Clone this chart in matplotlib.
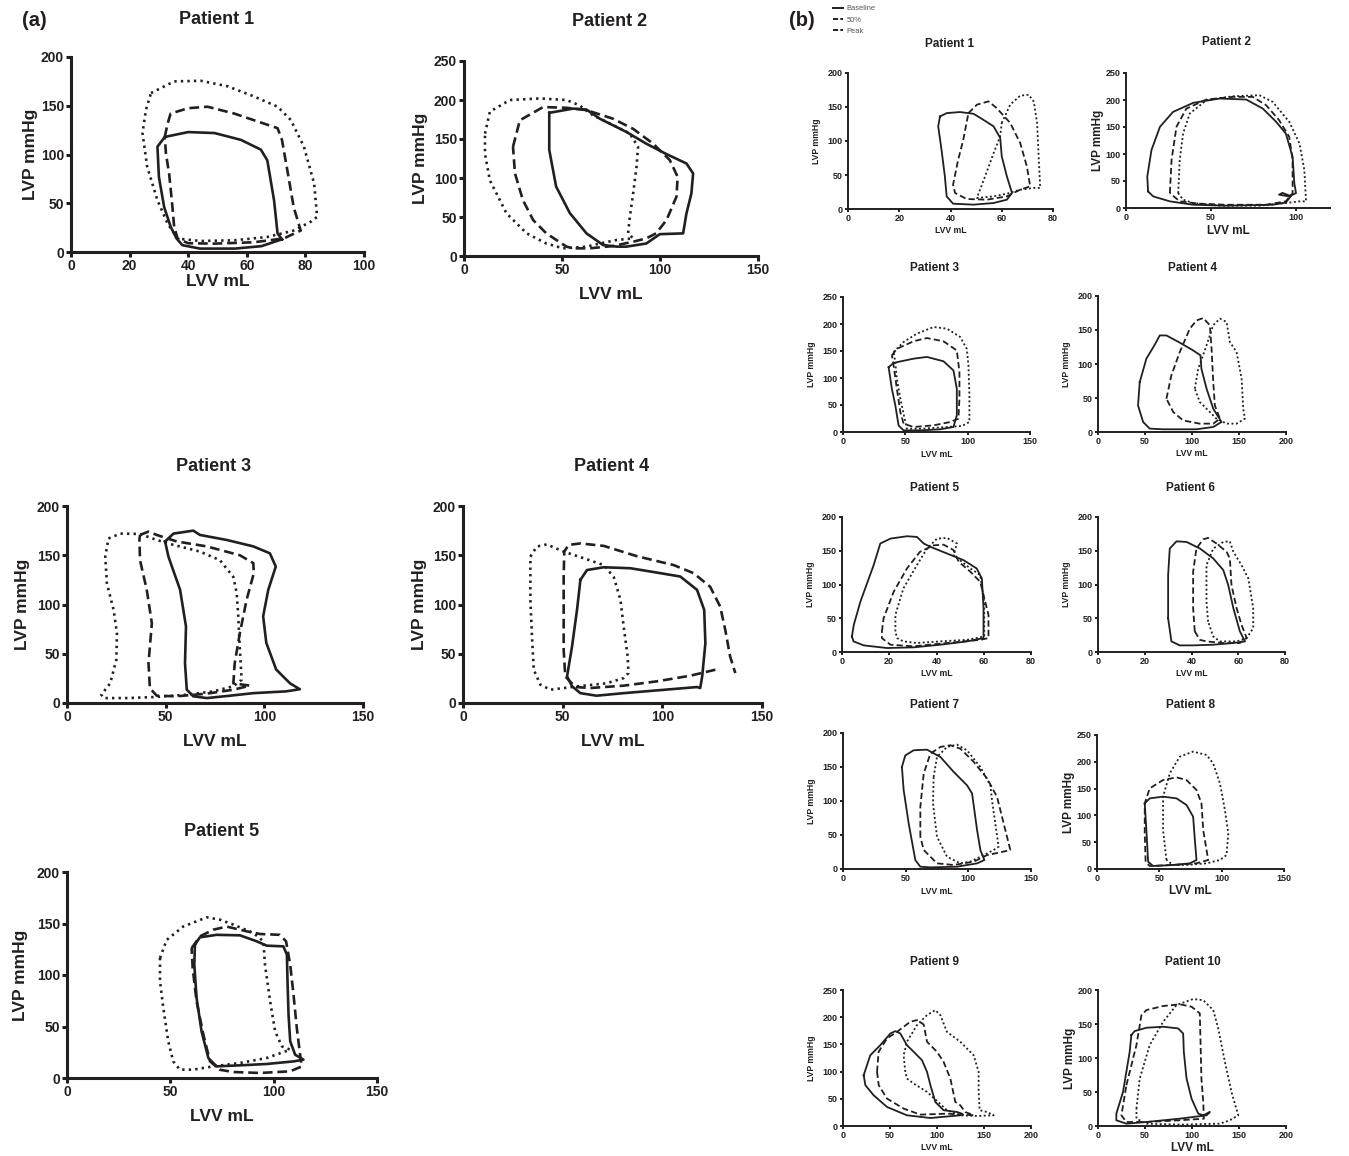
import numpy as np
import matplotlib
matplotlib.use("Agg")
import matplotlib.pyplot as plt
from matplotlib.lines import Line2D

plt.rcParams['font.family'] = ['Liberation Sans', 'DejaVu Sans']
plt.rcParams['font.weight'] = 'bold'
plt.rcParams['lines.scale_dashes'] = False

INK = '#231f20'
W, H = 1349, 1156

# ---------------- data: pressure-volume loops (LVV mL, LVP mmHg) ----------------
# Panel (a)
a1_baseline = [(72,13),(70.5,19),(69.3,53),(67,94),(64.8,105),(58,115),(49,122),(40,123),(32,118),(29.5,108),(30,77),(31.8,46),(34,26),(36,14),(38,7),(44,3.5),(56,3.5),(65,6),(72,13)]
a1_half = [(32,118),(33,132),(34,142),(40,147.5),(46.6,149),(55.7,142),(63.6,134),(70.5,127),(72,115),(74,81),(76,46),(78.4,22),(72.7,14),(62.5,10),(49,8.6),(40,9),(36.4,13.7),(35.2,26),(34.5,50),(33.5,80),(32.4,101),(32,118)]
a1_peak = [(27.3,163),(35.2,175),(44.3,175.6),(53.4,170),(62.5,159.5),(70.5,149),(75,135.5),(79.5,108),(83,70),(84,36),(81.8,31),(76,22),(67,15.4),(55.7,12),(44.3,11.3),(36.4,13.7),(33,29),(29.5,53),(26,87.5),(24.4,122),(25.6,146),(27.3,163)]

a2_baseline = [(43.5,183.5),(55.7,189),(62.5,187.7),(69.3,176),(82.9,159),(93,144),(103,131),(113.5,118.6),(116.9,105.8),(116,80),(113.5,54.6),(111.8,29),(99.9,28),(98,24.7),(93,16),(82.9,12),(78,12),(71,14),(62.5,29),(54,55),(47,89),(43.5,136),(43.5,183.5)]
a2_half = [(25,140),(28.5,174),(40.4,191),(52.3,190),(62.5,187),(76,176),(86.3,163),(96.5,144),(105,123),(109,101.5),(108.4,76),(103.3,46),(98,29),(93,22.6),(86.3,18.3),(76,12.8),(64,9.8),(55.7,9.8),(52.3,12),(42,29),(35.3,46),(30,72),(26,106),(25,140)]
a2_peak = [(10.7,157),(13.2,185),(23.4,200),(38.7,202),(52.3,200),(59,193),(66,180),(76,168),(84.6,157),(88.8,140),(88,114),(86.3,80),(84.6,50),(83.7,29),(86.3,22.6),(77.8,20.5),(69.3,16),(62.5,12),(50.6,9.8),(42,16),(32,29),(21.7,54.6),(13.2,97),(10.7,131),(10.7,157)]

a3_baseline = [(49.7,164),(54,172),(64,175),(67.4,170.6),(81,165.5),(94.4,159),(102.8,152),(105.8,138.5),(102,115),(99.4,88),(101,61),(106,34),(113,20),(118,14),(111,11.8),(94.4,10),(82.6,7.4),(70.8,5),(64,6.8),(60.7,13.5),(59.8,40.5),(60.3,77.7),(57.3,115),(51.4,148.6),(49.7,164)]
a3_half = [(37,170.6),(41.3,174),(45.5,170.6),(55.6,164),(70.8,159),(87.6,150),(94.4,142),(94.7,132),(91,104.7),(87.6,71),(85,40.5),(84.3,20),(92.7,17.6),(84.3,13.5),(70.8,9.5),(55.6,6.8),(45.5,7.4),(42,15),(41.3,40.5),(43,81),(40.4,115),(37,145),(36.7,166),(37,170.6)]
a3_peak = [(21,167),(27,172),(37,171.6),(45.5,165.5),(54,160.5),(67.4,153.7),(77.5,145),(84.3,128),(86,111.5),(86.8,88),(87.6,54),(88.5,23.6),(84.3,17),(74,11.8),(60.7,8.4),(43.8,6),(30.3,5),(18.5,5),(17.4,8.4),(21.9,20),(25,44),(25.3,71),(23.6,94.6),(20.2,121.6),(19.4,148.6),(21,167)]

a4_baseline = [(58.9,125),(62.2,135),(70.6,137.8),(84,136.8),(97.3,132.4),(109,128.4),(117.4,114.9),(121,94.6),(121.6,60.8),(120,27),(119,15.2),(117.4,16.2),(97.3,12.8),(80.6,10),(67,7.4),(58.9,10),(54.7,17),(52.2,27),(54.7,57.4),(57.2,94.6),(58.9,125)]
a4_half = [(126.6,33.8),(114,27.7),(97.3,22),(80.6,17.6),(63.9,15.2),(56.4,16.2),(51.3,27),(50.5,54),(50.5,87.8),(50.5,128),(50.8,153.7),(53,160.5),(58.9,162),(70.6,159.5),(87.3,149),(105.7,140),(115.7,131.8),(124,118),(129,98),(131.6,74),(134,47.3),(136.6,30.4)]
a4_peak = [(33.8,148.6),(37,158.8),(42,161),(50.5,153.7),(60.5,147),(70.6,140),(75.6,128),(79,104.7),(80.6,77.7),(82.6,47.3),(83,30.4),(80.6,25.3),(72,20),(60.5,17.6),(50.5,15.2),(43.8,13.5),(38.8,18.6),(35.5,33.8),(34.6,67.6),(33.8,104.7),(33.8,148.6)]

a5_baseline = [(61.9,129.4),(64.3,136.6),(72.4,139),(83.7,138.5),(91.8,132.7),(96.6,128.5),(104.7,127.8),(106.4,119.7),(106.7,93.8),(107.2,61.5),(108,35.6),(110.4,22.6),(114.4,17.8),(110,16.2),(96.6,13.6),(83.7,12.3),(72.4,11.3),(68.4,19.4),(65.1,45.3),(62.7,77.7),(61.6,110),(61.9,129.4)]
a5_half = [(60.3,126),(64.3,137.5),(70.8,144),(77.3,147),(87,142.4),(93.4,139.8),(103,139),(106,132.7),(108,110),(109.6,81),(111.2,48.5),(112.8,22.6),(113.6,11.3),(108,6.5),(93.4,4.9),(80.5,5.8),(74,8),(69.2,16.2),(66,42),(62.7,74.4),(60.8,106.8),(60.3,126)]
a5_peak = [(45,116.5),(48.2,134),(56.2,147),(67.6,156),(74,153.7),(80.5,148.9),(90.2,140.8),(95,132.7),(95.8,110),(98.3,74.4),(100.7,45.3),(104,30.7),(108,27.5),(96.6,19.4),(83.7,14.6),(70.8,11.3),(61,8.1),(54.6,8.1),(51.4,16.2),(49,35.6),(46.6,68),(45,94),(45,116.5)]

# Panel (b)
b1_baseline = [(35.9,136),(38.5,141),(43.7,142.6),(49,140),(52.9,131),(56.8,121.6),(59.4,104.4),(60,77.5),(62,48),(64,23.5),(62,13.7),(56.8,8.8),(49,6.4),(41,7.8),(38.5,18.6),(37.8,48),(36.5,87),(35.2,121.6),(35.9,136)]
b1_half = [(47,141),(50.3,153.4),(54.8,158.3),(58,148.5),(63.3,126.5),(67.2,97),(69.8,62.7),(71.1,33.3),(67.2,28.4),(62,18.6),(54.2,13.7),(46.3,14.7),(41.8,23.5),(41,35.8),(43,72.5),(45,102),(47,141)]
b1_peak = [(60,126.5),(63.3,153.4),(67.2,166.7),(70.5,168),(72.5,158),(73.8,126.5),(74.4,77.5),(75,31),(72.5,31),(67.2,28.4),(62,22.5),(56.8,18.6),(50.3,16.2),(53.5,48),(56.8,82),(59.4,107),(60,126.5)]

b2_baseline = [(13,30.7),(12.5,58),(15,107.5),(20,150.5),(27.7,178),(39.5,194.7),(55,202.7),(70.7,200.9),(80.5,184),(88.3,159.7),(94,138),(98,95),(99,46),(100,27.6),(96,21.5),(90,24.6),(92,28),(97,22),(94,10),(86.3,6),(59,4.3),(39.5,6),(25.8,12.3),(16,21.5),(13,30.7)]
b2_half = [(25.8,27.6),(26.8,89),(29.7,150.5),(35.5,184),(47.3,200.9),(62.9,205.8),(74.6,205.8),(82.4,190.4),(90,163),(96,132),(98,89),(98,27.6),(94,12.3),(82.4,6),(59,6),(43.3,8),(31.6,12.3),(25.8,27.6)]
b2_peak = [(30.7,27.6),(31.6,89),(33.6,138),(37.5,175),(47.3,199.6),(62.9,207),(78.5,208.8),(86.3,196.5),(96,159.7),(102,119.8),(104.9,70.6),(105.9,12.3),(102,12.3),(94,9.2),(78.5,4.3),(55,4.3),(39.5,9.2),(33.6,15.4),(30.7,27.6)]

b3_baseline = [(36.6,120),(40.6,128),(56.6,135.8),(67.3,139),(80.6,131),(88.6,114),(91.3,80),(91.3,31),(88.6,9.3),(78,5),(62,3),(48.6,3),(44.6,12),(42,49),(39.2,80),(36.6,120)]
b3_half = [(39.2,142),(43.2,154),(56.6,168),(67.3,174),(80.6,168),(91.3,151),(93.4,111),(93.4,62),(92.6,24.7),(86,18.5),(72.6,12.3),(56.6,9.3),(48.6,15.4),(46,37),(43.2,80),(40.6,123.5),(39.2,142)]
b3_peak = [(40.6,148),(48.6,166.7),(59.2,182),(72.6,194.4),(83.3,191.4),(94,176),(99.3,154),(100.6,123.5),(101.4,68),(101.4,18.5),(95.3,11),(83.3,9.3),(62,6),(51.2,6),(50,18.5),(46,61.7),(43.2,98.8),(41.9,129.6),(40.6,148)]

b4_baseline = [(44.4,73.5),(51.5,108),(60.4,128.4),(65.7,142),(72.8,142),(87,131.4),(101.2,120),(109,112.7),(110,93),(115.5,63.7),(122.6,34.3),(131.4,14.7),(122.6,7.4),(104.8,4),(69,4),(55,5),(48,14.7),(42.6,39),(44.4,73.5)]
b4_half = [(72.8,49),(78,83),(87,117.6),(97.7,152),(104.8,164),(111.9,167.6),(119,157),(120.8,122.5),(122.6,73.5),(124.3,39),(129.7,19.6),(122.6,12.3),(108,12.3),(90.6,17),(80,29.4),(72.8,49)]
b4_peak = [(103,63.7),(106.6,93),(115.5,127.5),(122.6,157),(129.7,166.7),(136.8,161.8),(140.3,132.4),(147.4,117.6),(152.8,78.4),(154.5,34.3),(156.3,19.6),(147.4,12.3),(136.8,12.3),(126,19.6),(119,29.4),(108.3,44),(103,63.7)]

b5_baseline = [(4.2,23),(5,40.3),(7.8,74.7),(13.4,128.7),(16.2,160.7),(20.5,168),(27.5,171.5),(31.7,170.5),(34.6,160.7),(37.4,155.8),(44.4,146),(51.5,136),(57,123.8),(59.2,109),(59.9,65),(59.9,20.6),(52.9,15.7),(41.6,10.8),(30.3,6.9),(19,5.9),(9.2,9.8),(4.9,15.7),(4.2,23)]
b5_half = [(16.9,30.5),(17.6,50),(21.9,89.4),(27.5,123.8),(33,148.4),(38.8,158),(43,159),(47.2,151),(49.4,133.7),(54.3,119),(58.5,104),(60.6,74.7),(62,55),(62,20.6),(58.5,18),(44.4,13.3),(30.3,8.4),(20.5,10.8),(16.9,20.6),(16.9,30.5)]
b5_peak = [(22.6,30.5),(22.6,55),(26,94.3),(31.7,128.7),(36,153.3),(40.2,168),(44.4,169),(48.7,160.7),(47.2,143.5),(54.3,123.8),(58.5,114),(60.2,74.7),(60.2,23),(52.9,18),(41.6,15.7),(31.7,13.3),(26,15.7),(23.3,20.6),(22.6,30.5)]

b6_baseline = [(30,50),(30,114),(30.7,153.3),(33.6,164),(37.9,163),(43.6,153.3),(49.3,138.6),(53.6,121.4),(55.7,99.3),(57.9,65),(60.7,30.5),(62.9,15.7),(57.9,13.3),(49.3,10.8),(40.7,9.8),(35,9.8),(31.4,15.7),(30,50)]
b6_half = [(41.4,30.5),(40.7,65),(40.7,119),(42.1,153.3),(45,167),(47.1,169),(50.7,160.7),(55,148.4),(56.4,138.6),(57.1,99.3),(59.3,65),(61.4,40.3),(63.6,20.6),(60.7,13.3),(53.6,13.3),(46.4,15.7),(43.6,18),(41.4,30.5)]
b6_peak = [(47.1,45),(46.4,74.7),(46.4,128.7),(49.3,153.3),(53.6,163),(56.4,164),(57.9,148.4),(61.4,128.7),(64.3,109),(66.4,65),(66.4,35.4),(63.6,20.6),(59.3,15.7),(52.1,15.7),(49.3,23),(47.1,45)]

b7_baseline = [(47,150),(49.7,167),(56.4,174.6),(67,175.5),(77.7,164.8),(88.3,142.8),(99,123),(103,111),(104.8,86.5),(107,57),(109.6,28),(112.8,13.2),(107,8.3),(91,3.4),(69.7,2.4),(61.7,3.4),(57.7,13.2),(52.4,67),(48.4,116),(47,150)]
b7_half = [(61.7,47.4),(61.7,91.4),(64.4,140.3),(69.7,169.7),(77.7,179.5),(85.6,182),(93.6,177),(104.3,157.5),(115,133),(122.9,106),(128.2,67),(133.5,28),(125.5,24.5),(115,20.5),(104.3,10.8),(88.3,5.9),(75,8.3),(64.4,28),(61.7,47.4)]
b7_peak = [(72.3,135.4),(75,164.8),(83,179.5),(91,182.9),(98.9,174.6),(109.6,150),(117.6,123),(118.9,101),(121.5,67),(124.2,32.8),(120.2,27.9),(109.6,18),(101.6,10.8),(93.6,8.3),(83,18),(75,47.4),(71.8,96.3),(72.3,135.4)]

b8_baseline = [(38.3,122.5),(42.3,131.8),(53,135),(63.8,131.8),(71.8,119.4),(77.1,97.6),(78.5,54),(79.8,16.8),(74.5,10.6),(61,7.5),(45,5.6),(41,13.7),(39.6,72.8),(38.3,122.5)]
b8_half = [(38.3,66.5),(38.3,122.5),(42.3,150.5),(53,166),(63.8,171),(71.8,166),(79.8,147.4),(83.8,122.5),(85.2,72.8),(89.2,16.8),(79.8,10.6),(61,7.5),(42.3,5.6),(39,13.7),(38.3,66.5)]
b8_peak = [(55.7,16.8),(53,72.8),(53,135),(58.4,178.5),(66.4,209.6),(77.1,219),(87.9,212.7),(93.2,197),(98.6,159.8),(102.6,110),(105.3,66.5),(103.9,26),(98.6,16.8),(87.9,10.6),(71.8,7.5),(61,7.5),(55.7,16.8)]

b9_baseline = [(22,93.4),(29,130),(39.7,148.6),(50.4,170),(55.7,174.4),(61,170),(68,148.6),(75.2,136.4),(84,121),(89.4,99.5),(93,75),(98.2,44.2),(107,29),(121,25.8),(126.6,22.7),(125,19.7),(93,14.7),(68,19.7),(46.8,35),(32.6,56.5),(23.8,75),(22,93.4)]
b9_half = [(36.2,99.5),(37.9,136.4),(46.8,161),(57.4,173),(71.6,191.6),(78.7,194.7),(85.8,186.7),(89.4,154.8),(100,136.4),(107,118),(114.2,87.2),(119.5,44.2),(124.8,38),(130,25.8),(139,19.7),(110.6,22.7),(82.3,20.9),(64.5,32),(46.8,50.4),(38,75),(36.2,99.5)]
b9_peak = [(66.3,99.5),(64.5,130),(68,154.8),(78.7,185.5),(89.4,204),(98.2,213),(103.5,204),(110.6,173),(124.8,154.8),(139,130),(144.3,99.5),(144.3,62.7),(145.4,29),(153,25.8),(160.3,19.7),(142.5,18.4),(124.8,19.7),(110.6,29),(89.4,62.7),(75.2,78),(68,87.2),(66.3,99.5)]

b10_baseline = [(35.5,133.7),(39,139.6),(51.5,144.5),(69.3,146),(85.3,143.5),(90.6,136),(91.3,109),(94.2,69.8),(99.5,40.3),(106.6,18.2),(112,15.7),(119,20.6),(115.5,15.7),(87,10.8),(51.5,5.9),(30.2,3.4),(19.5,8.4),(19.5,18.2),(26.6,50),(33.7,109),(35.5,133.7)]
b10_half = [(30.2,60),(40.9,119),(46.2,163),(51.5,170.5),(69.3,176.4),(87,179),(99.5,175.4),(108.3,165.6),(109,128.7),(110,69.8),(112,35.4),(112.6,10.8),(87,8.4),(51.5,5.9),(30.2,5.9),(24.9,15.7),(30.2,60)]
b10_peak = [(40.9,25.5),(44.4,69.8),(55,119),(69.3,153.3),(83.5,177.9),(101.2,186.7),(112,185),(122.6,170.5),(127.9,143.5),(135,94.3),(142,50),(149.2,15.7),(140.3,8.4),(129.7,3.4),(87,2),(51.5,3.4),(40.9,10.8),(40.9,25.5)]

titles_a = ['Patient 1', 'Patient 2', 'Patient 3', 'Patient 4', 'Patient 5']
titles_b = ['Patient %d' % i for i in range(1, 11)]
legend_labels = ['Baseline', '50%', 'Peak']

# ---------------- layout (pixel boxes: left, right, top, bottom) ----------------
panels = [
    # group, loops, box, xmax, xticks, ymax, title pos, big labels, xlabelpad, ylabelpad
    ('a', (a1_baseline, a1_half, a1_peak), (71, 364, 57, 252), 100, [0, 20, 40, 60, 80, 100], 200, (217, 19), True, 1, 2),
    ('a', (a2_baseline, a2_half, a2_peak), (464, 758, 61, 256), 150, [0, 50, 100, 150], 250, (610, 21), True, 7, 4),
    ('a', (a3_baseline, a3_half, a3_peak), (67, 363, 506, 703), 150, [0, 50, 100, 150], 200, (214, 466), True, 7, 5),
    ('a', (a4_baseline, a4_half, a4_peak), (463, 762, 506, 703), 150, [0, 50, 100, 150], 200, (612, 466), True, 7, 4),
    ('a', (a5_baseline, a5_half, a5_peak), (67, 377, 872, 1078), 150, [0, 50, 100, 150], 200, (222, 832), True, 7, 6),
    ('b', (b1_baseline, b1_half, b1_peak), (848, 1053, 73, 209), 80, [0, 20, 40, 60, 80], 200, (950, 44), False, 2, 5),
    ('b', (b2_baseline, b2_half, b2_peak), (1126, 1330, 73, 208), 120, [0, 50, 100], 250, (1227, 42), True, 2, 1),
    ('b', (b3_baseline, b3_half, b3_peak), (843, 1030, 297, 432), 150, [0, 50, 100, 150], 250, (935, 268), False, 3, 5),
    ('b', (b4_baseline, b4_half, b4_peak), (1098, 1286, 296, 432), 200, [0, 50, 100, 150, 200], 200, (1192, 268), False, 2, 5),
    ('b', (b5_baseline, b5_half, b5_peak), (842, 1031, 517, 652), 80, [0, 20, 40, 60, 80], 200, (935, 488), False, 2, 5),
    ('b', (b6_baseline, b6_half, b6_peak), (1098, 1285, 517, 652), 80, [0, 20, 40, 60, 80], 200, (1190, 488), False, 2, 5),
    ('b', (b7_baseline, b7_half, b7_peak), (843, 1031, 733, 869), 150, [0, 50, 100, 150], 200, (935, 705), False, 3, 5),
    ('b', (b8_baseline, b8_half, b8_peak), (1097, 1284, 735, 869), 150, [0, 50, 100, 150], 250, (1191, 705), True, 1, 1),
    ('b', (b9_baseline, b9_half, b9_peak), (843, 1031, 990, 1126), 200, [0, 50, 100, 150, 200], 250, (935, 962), False, 2, 5),
    ('b', (b10_baseline, b10_half, b10_peak), (1098, 1286, 990, 1126), 200, [0, 50, 100, 150, 200], 200, (1193, 962), True, 1, 1),
]

STYLE = {
    'a': dict(lw=1.9, spine=2.2, ticklen=3.6, tickfs=10, labfs=12.5, titlefs=13,
              ls=['-', (0, (7, 3.5)), (0, (1.7, 3.0))]),
    'b': dict(lw=1.3, spine=1.4, ticklen=2.3, tickfs=6.5, labfs=6.2, titlefs=8.5,
              ls=['-', (0, (4.5, 2.3)), (0, (1.4, 1.8))]),
}

fig = plt.figure(figsize=(W / 100, H / 100), dpi=100)

ia = ib = 0
legend_handles = None
for group, loops, box, xmax, xticks, ymax, tpos, big, xpad, ypad in panels:
    st = STYLE[group]
    l, r, t, b = box
    ax = fig.add_axes([l / W, 1 - b / H, (r - l) / W, (b - t) / H])
    ax.set_xlim(0, xmax)
    ax.set_ylim(0, ymax)
    ax.set_xticks(xticks)
    ax.set_yticks(np.arange(0, ymax + 1, 50))
    for s in ('top', 'right'):
        ax.spines[s].set_visible(False)
    for s in ('left', 'bottom'):
        ax.spines[s].set_linewidth(st['spine'])
        ax.spines[s].set_color(INK)
        ax.spines[s].set_capstyle('projecting')
    ax.tick_params(width=st['spine'], length=st['ticklen'], colors=INK,
                   labelsize=st['tickfs'], pad=1.5)
    for lab in ax.get_xticklabels() + ax.get_yticklabels():
        lab.set_fontweight('bold')
    ax.patch.set_alpha(0)
    handles = []
    for pts, ls in zip(loops, st['ls']):
        arr = np.array(pts, dtype=float)
        ln, = ax.plot(arr[:, 0], arr[:, 1], color=INK, lw=st['lw'], linestyle=ls,
                      solid_joinstyle='round', dash_capstyle='butt', clip_on=False)
        handles.append(ln)
    if group == 'b' and legend_handles is None:
        legend_handles = handles
    if group == 'a':
        labfs = st['labfs']
        title = titles_a[ia]; ia += 1
    else:
        labfs = 8.5 if big else st['labfs']
        title = titles_b[ib]; ib += 1
    ax.set_xlabel('LVV mL', fontsize=labfs, fontweight='bold', color=INK, labelpad=xpad)
    ax.set_ylabel('LVP mmHg', fontsize=labfs, fontweight='bold', color=INK, labelpad=ypad)
    fig.text(tpos[0] / W, 1 - tpos[1] / H, title, ha='center', va='center',
             fontsize=st['titlefs'], fontweight='bold', color=INK)

fig.text(22 / W, 1 - 21 / H, '(a)', ha='left', va='center', fontsize=14.5,
         fontweight='bold', color=INK)
fig.text(789 / W, 1 - 21 / H, '(b)', ha='left', va='center', fontsize=14.5,
         fontweight='bold', color=INK)

leg_lines = [Line2D([], [], color=INK, lw=1.4, linestyle=h.get_linestyle()) for h in legend_handles]
leg = fig.legend(leg_lines, legend_labels, loc='upper left', bbox_to_anchor=(833 / W, 1 - 5 / H),
                 fontsize=5.4, handlelength=1.3, handletextpad=0.5, labelspacing=0.55,
                 frameon=False, borderpad=0, borderaxespad=0)
for txt in leg.get_texts():
    txt.set_color('#555555')
    txt.set_fontweight('normal')

fig.savefig('out.png', dpi=100)
